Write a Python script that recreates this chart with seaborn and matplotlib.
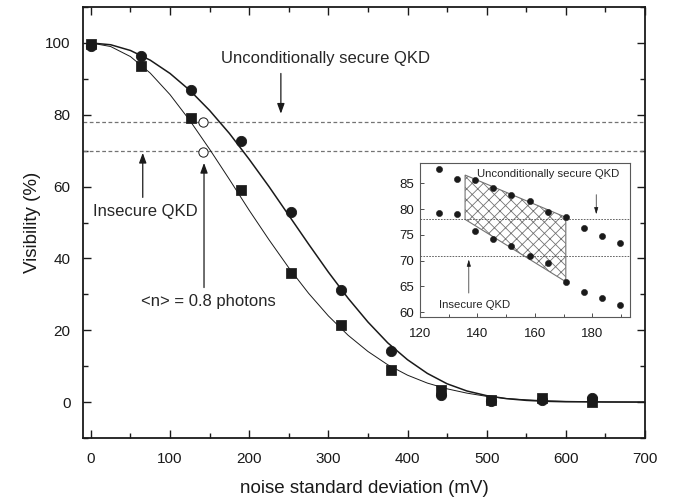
import matplotlib
matplotlib.use("Agg")
import matplotlib.pyplot as plt
from matplotlib.ticker import MultipleLocator
import seaborn as sns

# measured points (noise std in mV, visibility in %)
noise_mV = [0, 63.3, 126.5, 189.8, 253, 316.3, 379.6, 442.9, 506, 569.5, 632.8]
vis_circle = [99.2, 96.3, 86.9, 72.7, 52.8, 31.3, 14.1, 2.0, 0.3, 0.5, 1.2]
vis_square = [99.6, 93.6, 79.2, 59.1, 36.0, 21.5, 9.0, 3.4, 0.6, 1.2, 0.1]

# fitted curves
fit_x = [0, 25, 50, 75, 100, 125, 150, 175, 200, 225, 250, 275, 300, 325, 350,
         375, 400, 425, 450, 475, 500, 525, 550, 575, 600, 650, 700]
fit_circle = [100, 99.5, 97.9, 95.2, 91.5, 86.8, 81.2, 74.8, 67.6, 60.0, 52.0, 44.0,
              36.2, 28.9, 22.3, 16.5, 11.8, 8.0, 5.1, 3.1, 1.8, 0.96, 0.48, 0.22,
              0.09, 0.02, 0.0]
fit_square = [100, 99.0, 96.2, 91.6, 85.6, 78.4, 70.4, 62.0, 53.4, 45.2, 37.4, 30.3,
              24.0, 18.6, 14.1, 10.4, 7.5, 5.3, 3.7, 2.5, 1.6, 1.0, 0.64, 0.38,
              0.22, 0.07, 0.02]

# <n> = 0.8 photons points
open_x = [142, 142]
open_y = [78.1, 69.5]

# inset data
inset_x = [126.5, 132.8, 139.2, 145.5, 151.8, 158.2, 164.5, 170.8, 177.2, 183.5, 189.8]
inset_upper = [87.8, 85.9, 85.7, 84.0, 82.8, 81.5, 79.5, 78.4, 76.4, 74.8, 73.5]
inset_lower = [79.3, 79.0, 75.8, 74.1, 72.9, 70.8, 69.5, 65.9, 64.0, 62.8, 61.3]
hatch_x = [135.7, 170.8, 170.8, 135.7]
hatch_y = [86.6, 78.4, 65.9, 78.0]

sns.set_theme(style="ticks")
plt.rcParams["font.family"] = ["Liberation Sans", "DejaVu Sans"]
plt.rcParams["hatch.color"] = "0.35"
plt.rcParams["hatch.linewidth"] = 0.6

fig = plt.figure(figsize=(6.78, 4.99), dpi=100)
ax = fig.add_axes([0.1224, 0.1222, 0.8289, 0.8637])

ax.axhline(78, color="0.45", lw=0.9, ls=(0, (3, 2)), zorder=1)
ax.axhline(70, color="0.45", lw=0.9, ls=(0, (3, 2)), zorder=1)

sns.lineplot(x=fit_x, y=fit_circle, ax=ax, color="k", lw=1.1, zorder=2)
sns.lineplot(x=fit_x, y=fit_square, ax=ax, color="k", lw=0.7, zorder=2)
sns.scatterplot(x=noise_mV, y=vis_circle, ax=ax, marker="o", s=55, color="k",
                edgecolor="k", zorder=3)
sns.scatterplot(x=noise_mV, y=vis_square, ax=ax, marker="s", s=45, color="k",
                edgecolor="k", zorder=3)
sns.scatterplot(x=open_x, y=open_y, ax=ax, marker="o", s=45, color="white",
                edgecolor="k", linewidth=0.7, zorder=3)

ax.set_xlim(-10, 700)
ax.set_ylim(-10, 110)
ax.xaxis.set_major_locator(MultipleLocator(100))
ax.xaxis.set_minor_locator(MultipleLocator(50))
ax.yaxis.set_major_locator(MultipleLocator(20))
ax.yaxis.set_minor_locator(MultipleLocator(10))
ax.tick_params(which="both", direction="in", top=True, right=True, color="k",
               width=1.0, labelsize=11, labelcolor="k")
ax.tick_params(which="major", length=6)
ax.tick_params(which="minor", length=3.5)
ax.tick_params(axis="x", pad=10)
ax.tick_params(axis="y", pad=9)
for s in ax.spines.values():
    s.set_color("k")
    s.set_linewidth(1.3)
ax.set_xlabel("noise standard deviation (mV)", fontsize=13.5, color="k", labelpad=10)
ax.set_ylabel("Visibility (%)", fontsize=13.5, color="k", labelpad=3)

arrow_main = dict(arrowstyle="-|>,head_length=0.6,head_width=0.22", color="k",
                  lw=0.9, mutation_scale=10, shrinkA=0, shrinkB=0)
ax.text(296, 95.8, "Unconditionally secure QKD", fontsize=12, ha="center", va="center")
ax.annotate("", xy=(240, 80.3), xytext=(240, 91.5), arrowprops=arrow_main)
ax.text(68.8, 53.1, "Insecure QKD", fontsize=12, ha="center", va="center")
ax.annotate("", xy=(65.5, 69.4), xytext=(65.5, 57), arrowprops=arrow_main)
ax.text(148.3, 28.1, "<n> = 0.8 photons", fontsize=12, ha="center", va="center")
ax.annotate("", xy=(142.9, 66.6), xytext=(142.9, 31.9), arrowprops=arrow_main)

# inset
axi = fig.add_axes([0.6195, 0.3641, 0.309, 0.3099])
axi.fill(hatch_x, hatch_y, facecolor="white", edgecolor="0.45", lw=0.8,
         hatch="xxx", zorder=1)
axi.axhline(78, color="0.3", lw=0.6, ls=(0, (2, 1.5)), zorder=1)
axi.axhline(70.8, color="0.3", lw=0.6, ls=(0, (2, 1.5)), zorder=1)
sns.scatterplot(x=inset_x, y=inset_upper, ax=axi, marker="o", s=20, color="k",
                edgecolor="k", zorder=3)
sns.scatterplot(x=inset_x, y=inset_lower, ax=axi, marker="o", s=20, color="k",
                edgecolor="k", zorder=3)
axi.set_xlim(120, 193)
axi.set_ylim(59, 89)
axi.xaxis.set_major_locator(MultipleLocator(20))
axi.xaxis.set_minor_locator(MultipleLocator(10))
axi.yaxis.set_major_locator(MultipleLocator(5))
axi.tick_params(which="both", direction="in", labelsize=9.5, color="0.3",
                labelcolor="k", width=0.7)
axi.tick_params(which="major", length=3)
axi.tick_params(which="minor", length=2)
axi.tick_params(axis="x", pad=8)
axi.tick_params(axis="y", pad=4)
for s in axi.spines.values():
    s.set_color("0.35")
    s.set_linewidth(0.8)

arrow_in = dict(arrowstyle="-|>,head_length=0.5,head_width=0.15", color="k",
                lw=0.5, mutation_scale=8, shrinkA=0, shrinkB=0)
axi.text(164.8, 86.8, "Unconditionally secure QKD", fontsize=8.2, ha="center", va="center")
axi.annotate("", xy=(181.4, 79.0), xytext=(181.4, 82.8), arrowprops=arrow_in)
axi.text(138.9, 61.4, "Insecure QKD", fontsize=8.2, ha="center", va="center")
axi.annotate("", xy=(137, 70.2), xytext=(137, 63.7), arrowprops=arrow_in)

fig.savefig("out.png", dpi=100)
